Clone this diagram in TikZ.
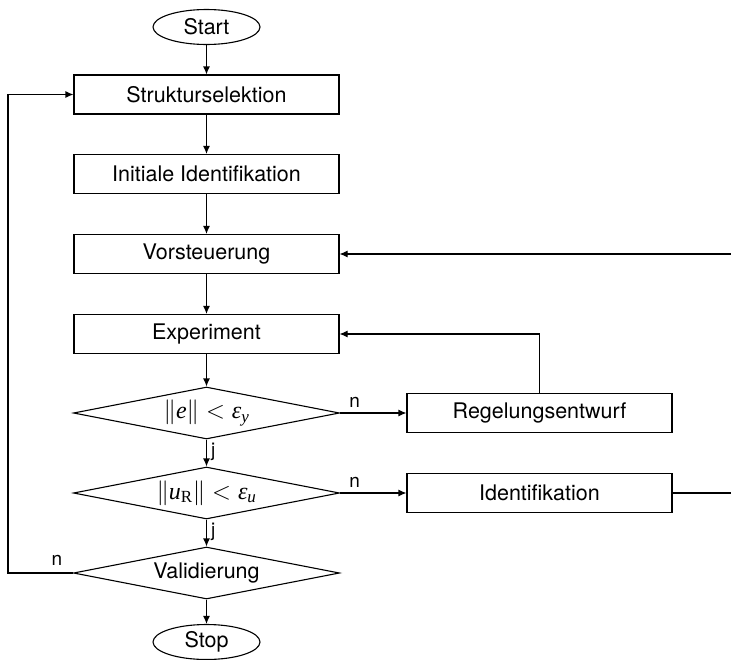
\documentclass[tikz,border=0pt]{standalone}
\usepackage{fontspec}
\setmainfont{TeX Gyre Heros}
\newfontfamily\condfont{Liberation Serif}
\usetikzlibrary{shapes.geometric,arrows.meta}

% italic serif letters and serif subscript letters for the conditions
\newcommand{\cvar}[1]{\mbox{\condfont\itshape #1}}
\newcommand{\csubi}[1]{\mbox{\fontsize{17}{19}\selectfont\condfont\itshape #1}}
\newcommand{\csubr}[1]{\mbox{\fontsize{17}{19}\selectfont\condfont #1}}

\tikzset{
  x=1pt, y=-1pt,
  every node/.style={font=\fontsize{21.5}{24}\selectfont},
  procbox/.style={draw, line width=1.1pt, rectangle, minimum width=265pt, minimum height=39pt, inner sep=0pt},
  terminal/.style={draw, line width=1.1pt, ellipse, minimum width=107pt, minimum height=35pt, inner sep=0pt},
  decision/.style={draw, line width=1.1pt, diamond, aspect=5.1, minimum width=266pt, minimum height=52pt, inner sep=0pt},
  flow/.style={line width=1.1pt, -{Latex[length=8pt,width=7pt]}},
  plain/.style={line width=1.1pt},
  branch/.style={font=\fontsize{19}{22}\selectfont, inner sep=0pt}
}

\begin{document}
\begin{tikzpicture}
\useasboundingbox (0,0) rectangle (731,659);

% main column
\node[terminal] (start) at (206.5,27) {Start};
\node[procbox] (struct) at (206.5,94.5) {Strukturselektion};
\node[procbox] (initid) at (206.5,174) {Initiale Identifikation};
\node[procbox] (vorst)  at (206.5,254) {Vorsteuerung};
\node[procbox] (exper)  at (206.5,334) {Experiment};
\node[decision] (dece) at (206.5,413)
  {\fontsize{24}{26}\selectfont$\|\cvar{e}\| < \cvar{ε}_{\csubi{y}}$};
\node[decision] (decu) at (206.5,493)
  {\fontsize{24}{26}\selectfont$\|\cvar{u}_{\csubr{R}}\| < \cvar{ε}_{\csubi{u}}$};
\node[decision] (valid) at (206.5,573) {Validierung};
\node[terminal] (stop) at (206.5,642) {Stop};

% right column
\node[procbox] (regent) at (539.5,413) {Regelungsentwurf};
\node[procbox] (ident)  at (539.5,493) {Identifikation};

% free ends at the border
\coordinate (outid) at (731,493);
\coordinate (invor) at (731,254);
\coordinate (loopx) at (8,0);

% straight flow
\draw[flow] (start) -- (struct);
\draw[flow] (struct) -- (initid);
\draw[flow] (initid) -- (vorst);
\draw[flow] (vorst) -- (exper);
\draw[flow] (exper) -- (dece);
\draw[flow] (dece) -- node[branch, right=4pt, pos=0.45] {j} (decu);
\draw[flow] (decu) -- node[branch, right=4pt, pos=0.45] {j} (valid);
\draw[flow] (valid) -- (stop);

% branches
\draw[flow] (dece.east) -- node[branch, above=5pt, pos=0.22] {n} (regent.west);
\draw[flow] (decu.east) -- node[branch, above=5pt, pos=0.22] {n} (ident.west);
\draw[flow] (regent.north) |- (exper.east);
\draw[plain] (ident.east) -- (outid);
\draw[flow] (invor) -- (vorst.east);
\draw[flow] (valid.west) -| (loopx |- valid.west) node[branch, pos=0.0, above=7pt, xshift=-16pt] {n} |- (struct.west);
\end{tikzpicture}
\end{document}
